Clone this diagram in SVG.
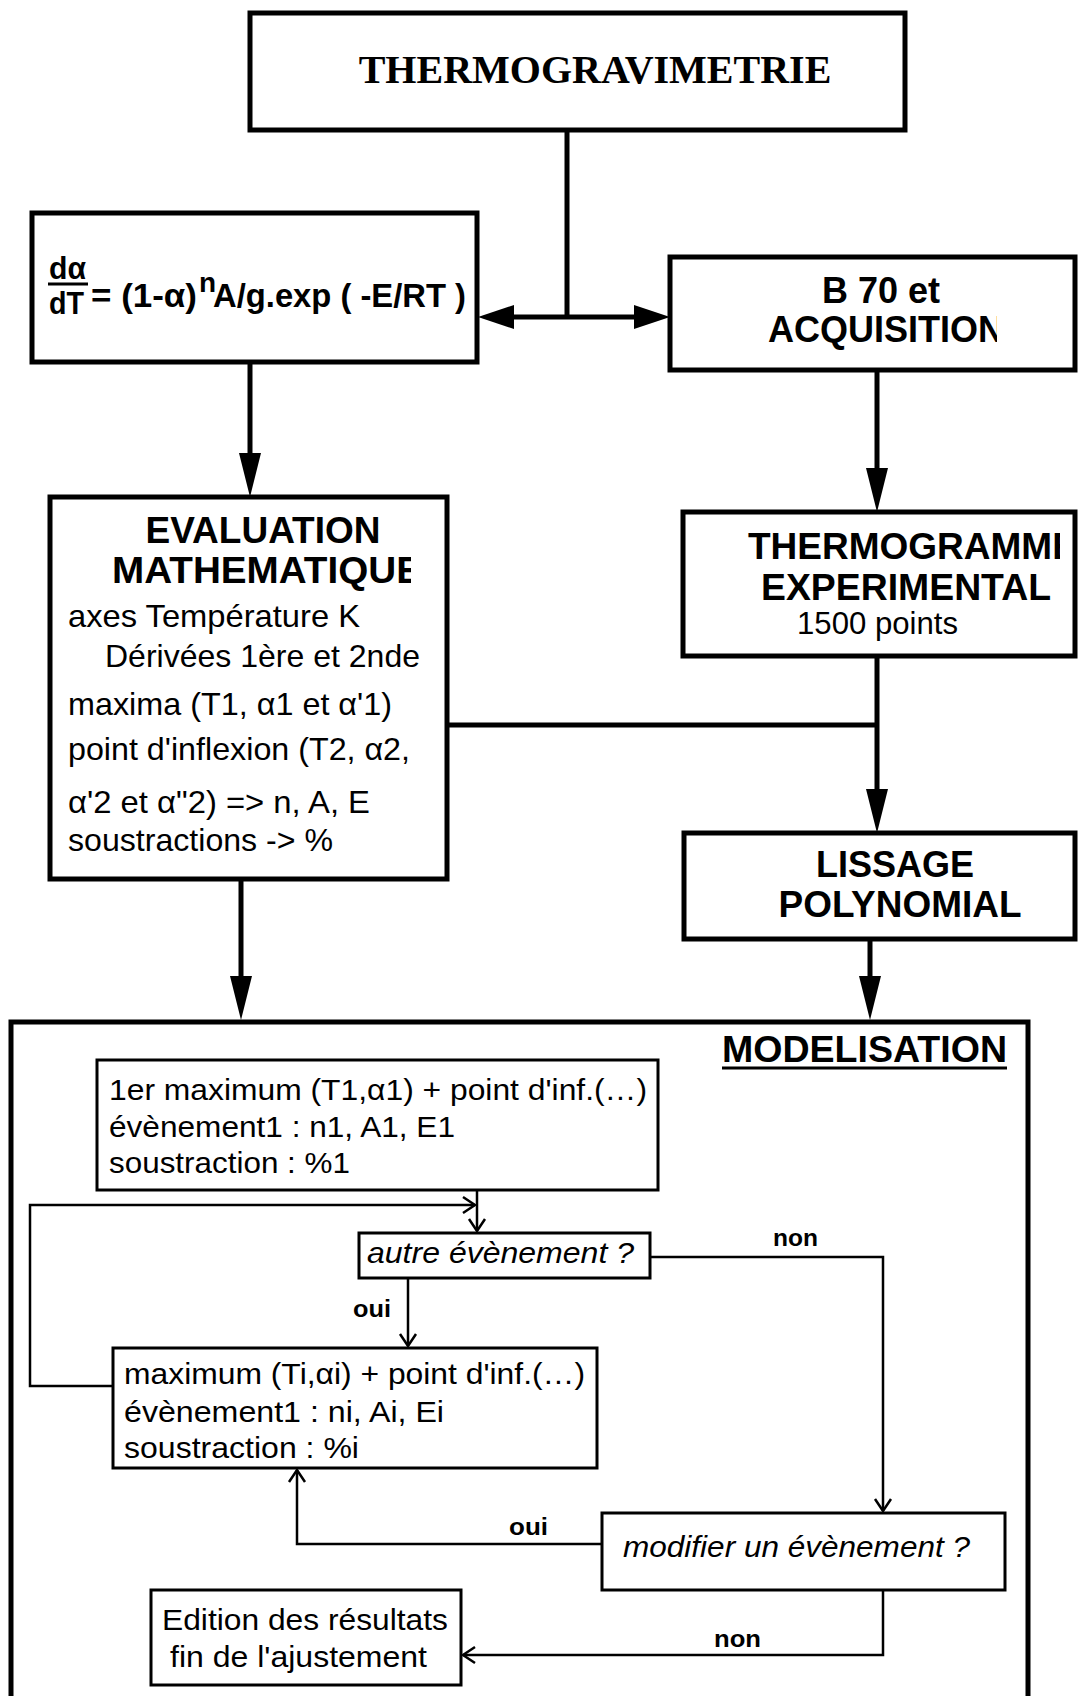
<svg xmlns="http://www.w3.org/2000/svg" width="1078" height="1696" viewBox="0 0 1078 1696">
<style>
.bx{fill:none;stroke:#000;stroke-width:5}
.ib{fill:none;stroke:#000;stroke-width:3}
.thick{fill:none;stroke:#000;stroke-width:5}
.thin{fill:none;stroke:#000;stroke-width:2.5}
.sans{font-family:"Liberation Sans",Arial,sans-serif;fill:#000}
.b{font-weight:bold}
.it{font-style:italic}
.serif{font-family:"Liberation Serif","Times New Roman",serif;font-weight:bold;fill:#000}
</style>
<defs>
<marker id="tri" viewBox="0 0 44 22" refX="0" refY="11" markerWidth="44" markerHeight="22" markerUnits="userSpaceOnUse" orient="auto-start-reverse"><path d="M0,0 L44,11 L0,22 Z" fill="#000"/></marker>
<marker id="triH" viewBox="0 0 36 24" refX="0" refY="12" markerWidth="36" markerHeight="24" markerUnits="userSpaceOnUse" orient="auto-start-reverse"><path d="M0,0 L36,12 L0,24 Z" fill="#000"/></marker>
<marker id="chev" viewBox="-2 -2 16 20" refX="12" refY="8" markerWidth="16" markerHeight="20" markerUnits="userSpaceOnUse" orient="auto" overflow="visible"><path d="M0,0 L12,8 L0,16" fill="none" stroke="#000" stroke-width="2.5"/></marker>
<clipPath id="clipMath"><rect x="0" y="540" width="411" height="60"/></clipPath>
<clipPath id="clipAcq"><rect x="600" y="300" width="397" height="60"/></clipPath>
<clipPath id="clipThermo"><rect x="600" y="520" width="460" height="45"/></clipPath>
</defs>

<g id="connectors">
<line class="thick" x1="567" y1="130" x2="567" y2="317"/>
<line class="thick" x1="514" y1="317" x2="634" y2="317" marker-start="url(#triH)" marker-end="url(#triH)"/>
<line class="thick" x1="250" y1="362" x2="250" y2="453" marker-end="url(#tri)"/>
<line class="thick" x1="877" y1="370" x2="877" y2="468" marker-end="url(#tri)"/>
<line class="thick" x1="877" y1="656" x2="877" y2="789" marker-end="url(#tri)"/>
<line class="thick" x1="447" y1="725" x2="877" y2="725"/>
<line class="thick" x1="241" y1="879" x2="241" y2="976" marker-end="url(#tri)"/>
<line class="thick" x1="870" y1="939" x2="870" y2="976" marker-end="url(#tri)"/>
<polyline class="thin" points="113,1386 30,1386 30,1205 475,1205" marker-end="url(#chev)"/>
<line class="thin" x1="477" y1="1190" x2="477" y2="1231" marker-end="url(#chev)"/>
<line class="thin" x1="408" y1="1278" x2="408" y2="1346" marker-end="url(#chev)"/>
<polyline class="thin" points="650,1257 883,1257 883,1511" marker-end="url(#chev)"/>
<polyline class="thin" points="602,1544 297,1544 297,1470" marker-end="url(#chev)"/>
<polyline class="thin" points="883,1590 883,1655 463,1655" marker-end="url(#chev)"/>
<text class="sans b" x="773" y="1246" font-size="24" textLength="45" lengthAdjust="spacingAndGlyphs">non</text>
<text class="sans b" x="353" y="1317" font-size="24" textLength="38" lengthAdjust="spacingAndGlyphs">oui</text>
<text class="sans b" x="509" y="1535" font-size="24" textLength="39" lengthAdjust="spacingAndGlyphs">oui</text>
<text class="sans b" x="714" y="1647" font-size="24" textLength="47" lengthAdjust="spacingAndGlyphs">non</text>
</g>

<g id="thermogravimetrie">
<rect class="bx" x="250" y="13" width="655" height="117"/>
<text class="serif" x="595" y="83" font-size="40" text-anchor="middle">THERMOGRAVIMETRIE</text>
</g>

<g id="formule">
<rect class="bx" x="32" y="213" width="445" height="149"/>
<text class="sans b" x="49" y="279" font-size="32" textLength="37" lengthAdjust="spacingAndGlyphs">dα</text>
<line x1="48" y1="284" x2="88" y2="284" stroke="#000" stroke-width="3"/>
<text class="sans b" x="49" y="314" font-size="32" textLength="35" lengthAdjust="spacingAndGlyphs">dT</text>
<text class="sans b" x="91" y="307" font-size="34" textLength="106" lengthAdjust="spacingAndGlyphs">= (1-α)</text>
<text class="sans b" x="199" y="292" font-size="28">n</text>
<text class="sans b" x="213" y="307" font-size="34" textLength="253" lengthAdjust="spacingAndGlyphs">A/g.exp ( -E/RT )</text>
</g>

<g id="b70">
<rect class="bx" x="670" y="257" width="405" height="113"/>
<text class="sans b" x="881" y="303" font-size="36" text-anchor="middle">B 70 et</text>
<text class="sans b" x="768" y="342" font-size="36" clip-path="url(#clipAcq)">ACQUISITION</text>
</g>

<g id="evaluation">
<rect class="bx" x="50" y="497" width="397" height="382"/>
<text class="sans b" x="263" y="543" font-size="37" text-anchor="middle">EVALUATION</text>
<text class="sans b" x="112" y="583" font-size="37" textLength="310" lengthAdjust="spacingAndGlyphs" clip-path="url(#clipMath)">MATHEMATIQUE</text>
<text class="sans" x="68" y="627" font-size="32" textLength="292" lengthAdjust="spacingAndGlyphs">axes Température K</text>
<text class="sans" x="105" y="667" font-size="32" textLength="315" lengthAdjust="spacingAndGlyphs">Dérivées 1ère et 2nde</text>
<text class="sans" x="68" y="715" font-size="32" textLength="324" lengthAdjust="spacingAndGlyphs">maxima (T1, α1 et α'1)</text>
<text class="sans" x="68" y="760" font-size="32" textLength="342" lengthAdjust="spacingAndGlyphs">point d'inflexion (T2, α2,</text>
<text class="sans" x="68" y="813" font-size="32" textLength="302" lengthAdjust="spacingAndGlyphs">α'2 et α"2) =&gt; n, A, E</text>
<text class="sans" x="68" y="851" font-size="32" textLength="265" lengthAdjust="spacingAndGlyphs">soustractions -&gt; %</text>
</g>

<g id="thermogramme">
<rect class="bx" x="683" y="512" width="392" height="144"/>
<text class="sans b" x="748" y="559" font-size="37" clip-path="url(#clipThermo)">THERMOGRAMME</text>
<text class="sans b" x="761" y="600" font-size="37" textLength="290" lengthAdjust="spacingAndGlyphs">EXPERIMENTAL</text>
<text class="sans" x="797" y="634" font-size="31" textLength="161" lengthAdjust="spacingAndGlyphs">1500 points</text>
</g>

<g id="lissage">
<rect class="bx" x="684" y="833" width="391" height="106"/>
<text class="sans b" x="895" y="877" font-size="36" text-anchor="middle">LISSAGE</text>
<text class="sans b" x="900" y="917" font-size="36" text-anchor="middle" textLength="243" lengthAdjust="spacingAndGlyphs">POLYNOMIAL</text>
</g>

<g id="modelisation">
<rect class="bx" x="11" y="1022" width="1017" height="700"/>
<text class="sans b" x="722" y="1062" font-size="37" textLength="285" lengthAdjust="spacingAndGlyphs">MODELISATION</text>
<line x1="722" y1="1068" x2="1007" y2="1068" stroke="#000" stroke-width="3"/>
</g>

<g id="premier-maximum">
<rect class="ib" x="97" y="1060" width="561" height="130"/>
<text class="sans" x="109" y="1100" font-size="29" textLength="538" lengthAdjust="spacingAndGlyphs">1er maximum (T1,α1) + point d'inf.(…)</text>
<text class="sans" x="109" y="1137" font-size="29" textLength="346" lengthAdjust="spacingAndGlyphs">évènement1 : n1, A1, E1</text>
<text class="sans" x="109" y="1173" font-size="29" textLength="241" lengthAdjust="spacingAndGlyphs">soustraction : %1</text>
</g>

<g id="autre-evenement">
<rect class="ib" x="359" y="1233" width="291" height="45"/>
<text class="sans it" x="367" y="1263" font-size="29" textLength="267" lengthAdjust="spacingAndGlyphs">autre évènement ?</text>
</g>

<g id="maximum-i">
<rect class="ib" x="113" y="1348" width="484" height="120"/>
<text class="sans" x="124" y="1384" font-size="29" textLength="461" lengthAdjust="spacingAndGlyphs">maximum (Ti,αi) + point d'inf.(…)</text>
<text class="sans" x="124" y="1422" font-size="29" textLength="320" lengthAdjust="spacingAndGlyphs">évènement1 : ni, Ai, Ei</text>
<text class="sans" x="124" y="1458" font-size="29" textLength="235" lengthAdjust="spacingAndGlyphs">soustraction : %i</text>
</g>

<g id="modifier">
<rect class="ib" x="602" y="1513" width="403" height="77"/>
<text class="sans it" x="623" y="1557" font-size="29" textLength="347" lengthAdjust="spacingAndGlyphs">modifier un évènement ?</text>
</g>

<g id="edition">
<rect class="ib" x="151" y="1590" width="310" height="95"/>
<text class="sans" x="162" y="1630" font-size="29" textLength="286" lengthAdjust="spacingAndGlyphs">Edition des résultats</text>
<text class="sans" x="170" y="1667" font-size="29" textLength="257" lengthAdjust="spacingAndGlyphs">fin de l'ajustement</text>
</g>
</svg>
